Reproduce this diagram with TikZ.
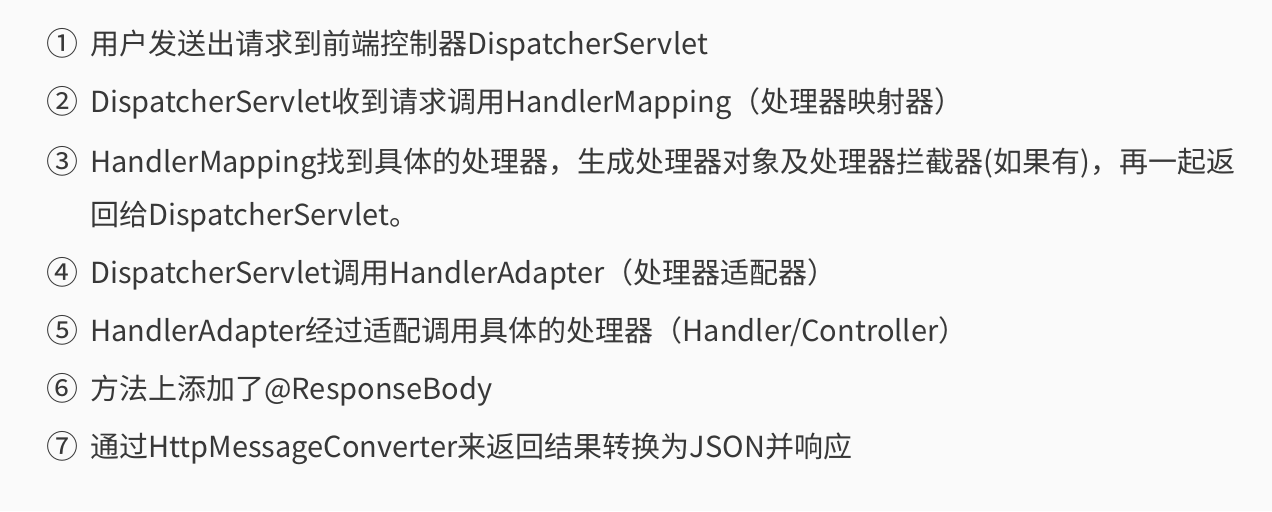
\documentclass[tikz,border=0pt]{standalone}
\usepackage{fontspec}
\setmainfont{Noto Sans CJK SC}
\definecolor{textgray}{HTML}{383838}
\begin{document}
\begin{tikzpicture}[%
  x=0.5pt, y=-0.5pt,
  num/.style={anchor=base, inner sep=0pt, text=textgray, font=\fontsize{16}{18}\selectfont},
  item/.style={anchor=base west, inner sep=0pt, text=textgray, font=\fontsize{14.5}{17}\selectfont},
]

  \useasboundingbox[fill=white!98!black] (0,0) rectangle (1272,511);

  \node[num] (n1) at (62, 55) {①};
  \node[num] (n2) at (62, 113) {②};
  \node[num] (n3) at (62, 173) {③};
  \node[num] (n4) at (62, 284) {④};
  \node[num] (n5) at (62, 342) {⑤};
  \node[num] (n6) at (62, 400) {⑥};
  \node[num] (n7) at (62, 458) {⑦};

  \node[item] (t1) at (90, 54) {用户发送出请求到前端控制器DispatcherServlet};
  \node[item] (t2) at (90, 112) {DispatcherServlet收到请求调用HandlerMapping（处理器映射器）};
  \node[item] (t3) at (90, 172) {HandlerMapping找到具体的处理器，生成处理器对象及处理器拦截器(如果有)，再一起返};
  \node[item] (t3b) at (90, 225) {回给DispatcherServlet。};
  \node[item] (t4) at (90, 283) {DispatcherServlet调用HandlerAdapter（处理器适配器）};
  \node[item] (t5) at (90, 341) {HandlerAdapter经过适配调用具体的处理器（Handler/Controller）};
  \node[item] (t6) at (90, 399) {方法上添加了@ResponseBody};
  \node[item] (t7) at (90, 457) {通过HttpMessageConverter来返回结果转换为JSON并响应};

\end{tikzpicture}
\end{document}
